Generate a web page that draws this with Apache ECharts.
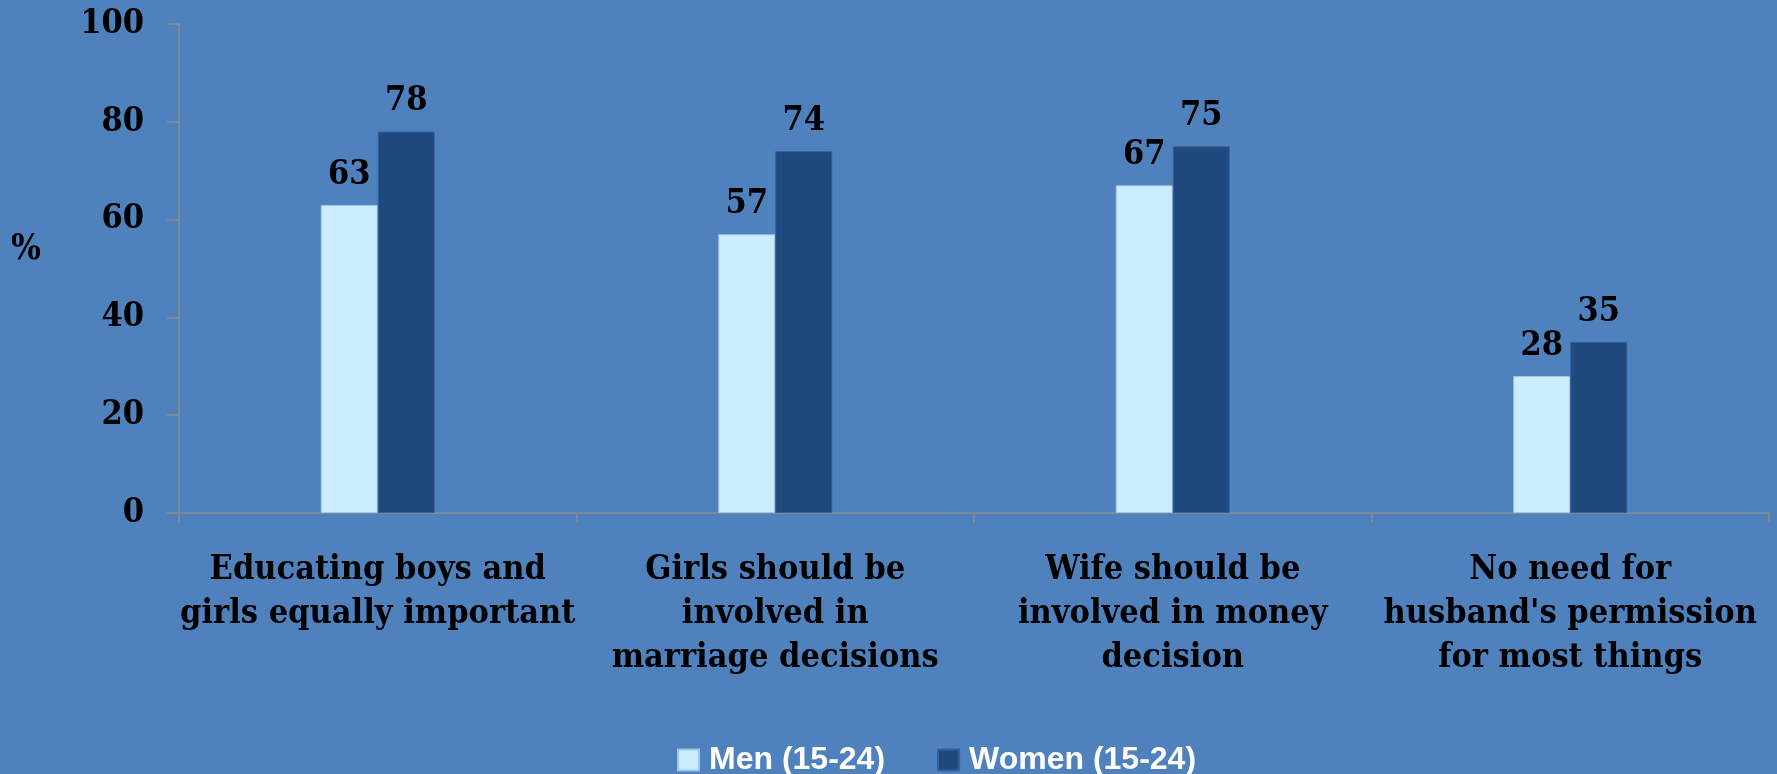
<!DOCTYPE html>
<html>
<head>
<meta charset="utf-8">
<script src="https://cdn.jsdelivr.net/npm/echarts@6/dist/echarts.min.js"></script>
<style>
html,body{margin:0;padding:0;background:#4F81BD;}
#chart{width:1777px;height:774px;}
</style>
</head>
<body>
<div id="chart"></div>
<script>
const categories = [
  "Educating boys and\ngirls equally important",
  "Girls should be\ninvolved in\nmarriage decisions",
  "Wife should be\ninvolved in money\ndecision",
  "No need for\nhusband's permission\nfor most things"
];
const menValues = [63, 57, 67, 28];
const womenValues = [78, 74, 75, 35];
const seriesNames = ["Men (15-24)", "Women (15-24)"];
const yTicks = { min: 0, max: 100, interval: 20 };

const serif = "'DejaVu Serif Condensed', 'DejaVu Serif', serif";
const chart = echarts.init(document.getElementById('chart'));
const labelStyle = {
  show: true, position: 'top', distance: 13,
  color: '#000', fontFamily: serif, fontWeight: 'bold', fontSize: 34
};
chart.setOption({
  backgroundColor: '#4F81BD',
  animation: false,
  grid: { left: 179, right: 8, top: 24, bottom: 261, containLabel: false },
  legend: {
    data: seriesNames,
    left: 672, top: 739,
    itemWidth: 21, itemHeight: 21, itemGap: 52,
    icon: 'rect',
    textStyle: { color: '#fff', fontFamily: "'Liberation Sans', Arial, sans-serif", fontWeight: 'bold', fontSize: 32, padding: [0,0,0,5] }
  },
  graphic: [{
    type: 'text', left: 11, top: 232,
    style: { text: '%', fill: '#000', font: "bold 35px 'DejaVu Serif Condensed', 'DejaVu Serif', serif" }
  }],
  xAxis: {
    type: 'category',
    data: categories,
    axisLine: { show: true, lineStyle: { color: '#8c8c8c', width: 1.5 } },
    axisTick: { show: true, length: 10, lineStyle: { color: '#8c8c8c', width: 1.5 } },
    axisLabel: {
      margin: 35, color: '#000', fontFamily: serif, fontWeight: 'bold',
      fontSize: 34, lineHeight: 44, interval: 0
    }
  },
  yAxis: {
    type: 'value', min: yTicks.min, max: yTicks.max, interval: yTicks.interval,
    splitLine: { show: false },
    axisLine: { show: true, lineStyle: { color: '#8c8c8c', width: 1.5 } },
    axisTick: { show: true, length: 12, lineStyle: { color: '#8c8c8c', width: 1.5 } },
    axisLabel: { margin: 35, color: '#000', fontFamily: serif, fontWeight: 'bold', fontSize: 34 }
  },
  series: [
    {
      name: seriesNames[0], type: 'bar', data: menValues,
      barWidth: 57, barGap: '0%',
      itemStyle: { color: '#CCECFF', borderColor: '#9fc6ea', borderWidth: 1 },
      label: labelStyle
    },
    {
      name: seriesNames[1], type: 'bar', data: womenValues,
      barWidth: 57,
      itemStyle: { color: '#1F497D', borderColor: '#34619a', borderWidth: 1 },
      label: labelStyle
    }
  ]
});
</script>
</body>
</html>
